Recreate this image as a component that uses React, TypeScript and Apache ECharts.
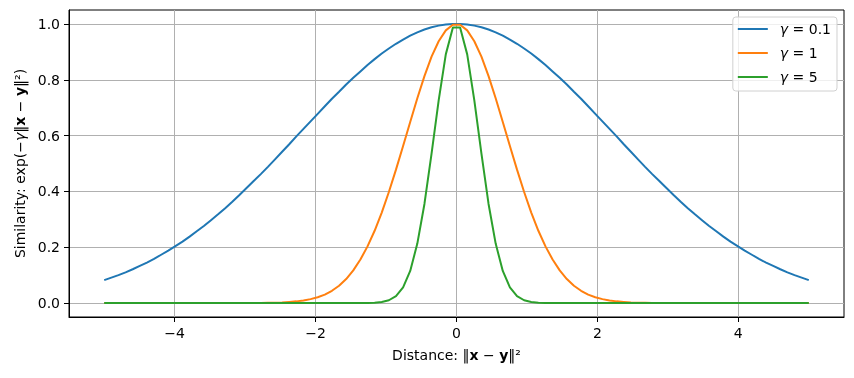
import React, { useEffect, useRef } from "react";
import * as echarts from "echarts";

const xs = [
  -5.0, -4.899, -4.798, -4.697, -4.596, -4.495, -4.394, -4.293, -4.192, -4.091,
  -3.99, -3.889, -3.788, -3.687, -3.586, -3.485, -3.384, -3.283, -3.182, -3.081,
  -2.98, -2.879, -2.778, -2.677, -2.576, -2.475, -2.374, -2.273, -2.172, -2.071,
  -1.97, -1.869, -1.768, -1.667, -1.566, -1.465, -1.364, -1.263, -1.162, -1.061,
  -0.96, -0.859, -0.758, -0.657, -0.556, -0.455, -0.354, -0.253, -0.152, -0.051,
  0.051, 0.152, 0.253, 0.354, 0.455, 0.556, 0.657, 0.758, 0.859, 0.96,
  1.061, 1.162, 1.263, 1.364, 1.465, 1.566, 1.667, 1.768, 1.869, 1.97,
  2.071, 2.172, 2.273, 2.374, 2.475, 2.576, 2.677, 2.778, 2.879, 2.98,
  3.081, 3.182, 3.283, 3.384, 3.485, 3.586, 3.687, 3.788, 3.889, 3.99,
  4.091, 4.192, 4.293, 4.394, 4.495, 4.596, 4.697, 4.798, 4.899, 5.0,
];

const gamma01 = [
  0.082, 0.091, 0.1, 0.11, 0.121, 0.133, 0.145, 0.158, 0.173, 0.188,
  0.204, 0.22, 0.238, 0.257, 0.276, 0.297, 0.318, 0.34, 0.363, 0.387,
  0.412, 0.437, 0.462, 0.488, 0.515, 0.542, 0.569, 0.597, 0.624, 0.651,
  0.678, 0.705, 0.732, 0.757, 0.783, 0.807, 0.83, 0.853, 0.874, 0.894,
  0.912, 0.929, 0.944, 0.958, 0.97, 0.98, 0.988, 0.994, 0.998, 1.0,
  1.0, 0.998, 0.994, 0.988, 0.98, 0.97, 0.958, 0.944, 0.929, 0.912,
  0.894, 0.874, 0.853, 0.83, 0.807, 0.783, 0.757, 0.732, 0.705, 0.678,
  0.651, 0.624, 0.597, 0.569, 0.542, 0.515, 0.488, 0.462, 0.437, 0.412,
  0.387, 0.363, 0.34, 0.318, 0.297, 0.276, 0.257, 0.238, 0.22, 0.204,
  0.188, 0.173, 0.158, 0.145, 0.133, 0.121, 0.11, 0.1, 0.091, 0.082,
];

const gamma1 = [
  0, 0, 0, 0, 0, 0, 0, 0, 0, 0,
  0, 0, 0, 0, 0, 0, 0, 0, 0, 0,
  0, 0, 0, 0.001, 0.001, 0.002, 0.004, 0.006, 0.009, 0.014,
  0.021, 0.03, 0.044, 0.062, 0.086, 0.117, 0.156, 0.203, 0.259, 0.324,
  0.398, 0.478, 0.563, 0.649, 0.734, 0.813, 0.883, 0.938, 0.977, 0.997,
  0.997, 0.977, 0.938, 0.883, 0.813, 0.734, 0.649, 0.563, 0.478, 0.398,
  0.324, 0.259, 0.203, 0.156, 0.117, 0.086, 0.062, 0.044, 0.03, 0.021,
  0.014, 0.009, 0.006, 0.004, 0.002, 0.001, 0.001, 0, 0, 0,
  0, 0, 0, 0, 0, 0, 0, 0, 0, 0,
  0, 0, 0, 0, 0, 0, 0, 0, 0, 0,
];

const gamma5 = [
  0, 0, 0, 0, 0, 0, 0, 0, 0, 0,
  0, 0, 0, 0, 0, 0, 0, 0, 0, 0,
  0, 0, 0, 0, 0, 0, 0, 0, 0, 0,
  0, 0, 0, 0, 0, 0, 0, 0, 0.001, 0.004,
  0.01, 0.025, 0.056, 0.115, 0.213, 0.355, 0.535, 0.726, 0.891, 0.987,
  0.987, 0.891, 0.726, 0.535, 0.355, 0.213, 0.115, 0.056, 0.025, 0.01,
  0.004, 0.001, 0, 0, 0, 0, 0, 0, 0, 0,
  0, 0, 0, 0, 0, 0, 0, 0, 0, 0,
  0, 0, 0, 0, 0, 0, 0, 0, 0, 0,
  0, 0, 0, 0, 0, 0, 0, 0, 0, 0,
];

const seriesNames = ["γ = 0.1", "γ = 1", "γ = 5"];
const seriesColors = ["#1f77b4", "#ff7f0e", "#2ca02c"];
const xTicks = [-4, -2, 0, 2, 4];
const yTicks = [0, 0.2, 0.4, 0.6, 0.8, 1.0];

const FONT = "DejaVu Sans";

export default function App() {
  const ref = useRef<HTMLDivElement>(null);
  useEffect(() => {
    if (!ref.current) return;
    const chart = echarts.init(ref.current, null, { renderer: "svg" });
    const allY = [gamma01, gamma1, gamma5];
    const mathRich = {
      n: { fontFamily: FONT, fontSize: 14, color: "#000" },
      g: { fontFamily: FONT, fontSize: 14, color: "#000", fontStyle: "italic" },
      b: { fontFamily: FONT, fontSize: 14, color: "#000", fontWeight: "bold" },
    };
    chart.setOption({
      animation: false,
      textStyle: { fontFamily: FONT },
      grid: {
        left: 69,
        top: 10,
        width: 775,
        height: 307,
        show: true,
        borderColor: "#000",
        borderWidth: 1,
        containLabel: false,
      },
      legend: {
        right: 17,
        top: 17,
        orient: "vertical",
        itemWidth: 30,
        itemHeight: 14,
        itemGap: 10,
        padding: [5, 6, 7, 4],
        backgroundColor: "rgba(255,255,255,0.8)",
        borderColor: "#d0d0d0",
        borderWidth: 1,
        borderRadius: 3,
        data: seriesNames,
        itemStyle: { opacity: 0 },
        lineStyle: { width: 2 },
        formatter: (name: string) => "{g|γ}{n|" + name.slice(1) + "}",
        textStyle: {
          padding: [0, 0, 0, 7],
          rich: mathRich,
        },
      },
      xAxis: {
        type: "value",
        min: -5.5,
        max: 5.5,
        name: "{n|Distance: ‖}{b|x}{n| − }{b|y}{n|‖²}",
        nameLocation: "middle",
        nameGap: 31,
        nameTextStyle: { rich: mathRich },
        axisLine: { show: true, onZero: false, lineStyle: { color: "#000", width: 1 } },
        axisTick: {
          show: true,
          length: 5,
          customValues: xTicks,
          lineStyle: { color: "#000", width: 1 },
        },
        axisLabel: {
          customValues: xTicks,
          margin: 9,
          color: "#000",
          fontSize: 14,
          fontFamily: FONT,
          formatter: (v: number) => (v < 0 ? "−" + Math.abs(v) : String(v)),
        },
        splitLine: { show: true, lineStyle: { color: "#b0b0b0", width: 1 } },
      },
      yAxis: {
        type: "value",
        min: -0.05,
        max: 1.05,
        name: "{n|Similarity: exp(−}{g|γ}{n|‖}{b|x}{n| − }{b|y}{n|‖²)}",
        nameLocation: "middle",
        nameRotate: 90,
        nameGap: 42,
        nameTextStyle: { rich: mathRich },
        axisLine: { show: true, onZero: false, lineStyle: { color: "#000", width: 1 } },
        axisTick: {
          show: true,
          length: 5,
          customValues: yTicks,
          lineStyle: { color: "#000", width: 1 },
        },
        axisLabel: {
          customValues: yTicks,
          margin: 9,
          color: "#000",
          fontSize: 14,
          fontFamily: FONT,
          formatter: (v: number) => v.toFixed(1),
        },
        splitLine: { show: true, lineStyle: { color: "#b0b0b0", width: 1 } },
      },
      series: seriesNames.map((name, k) => ({
        name,
        type: "line",
        data: xs.map((x, i) => [x, allY[k][i]]),
        symbol: "none",
        showSymbol: false,
        color: seriesColors[k],
        lineStyle: { color: seriesColors[k], width: 2 },
        z: 3 + k,
      })),
    });
    return () => chart.dispose();
  }, []);
  return (
    <div
      ref={ref}
      style={{ position: "fixed", left: 0, top: 0, width: 854, height: 378 }}
    />
  );
}
